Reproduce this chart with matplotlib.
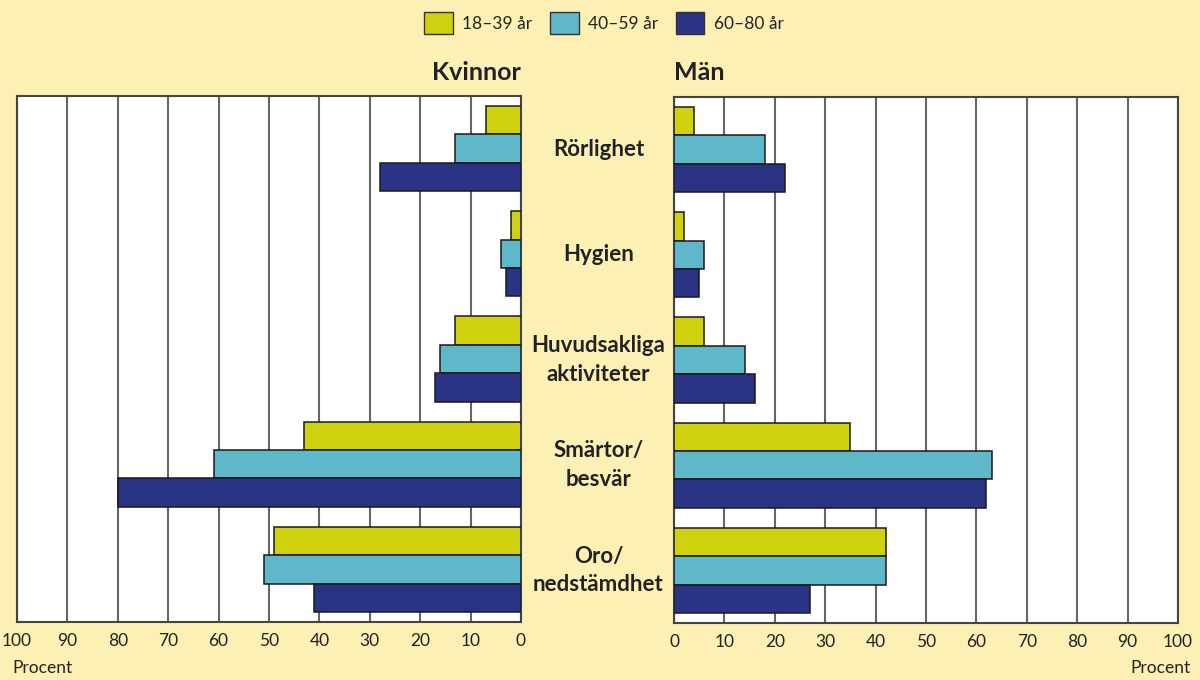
import matplotlib.pyplot as plt
from matplotlib.patches import Patch

# data (percent)
categories = ['Rörlighet', 'Hygien', 'Huvudsakliga\naktiviteter', 'Smärtor/\nbesvär', 'Oro/\nnedstämdhet']
age_groups = ['18–39 år', '40–59 år', '60–80 år']

kvinnor_18_39 = [7, 2, 13, 43, 49]
kvinnor_40_59 = [13, 4, 16, 61, 51]
kvinnor_60_80 = [28, 3, 17, 80, 41]

man_18_39 = [4, 2, 6, 35, 42]
man_40_59 = [18, 6, 14, 63, 42]
man_60_80 = [22, 5, 16, 62, 27]

bg = '#FCF0B4'
colors = ['#CFD10C', '#5FB8C9', '#2B3384']

plt.rcParams['font.family'] = ['Lato', 'DejaVu Sans']

fig = plt.figure(figsize=(12, 6.8), dpi=100)
fig.patch.set_facecolor(bg)

ax_k = fig.add_axes([17 / 1200, 1 - 622 / 680, 504 / 1200, 526 / 680])
ax_m = fig.add_axes([674 / 1200, 1 - 623 / 680, 504 / 1200, 526 / 680])

bar_h = 0.27
offsets = [-bar_h, 0, bar_h]
ypos = list(range(len(categories)))


def draw_side(ax, series):
    ax.set_facecolor('white')
    for i, vals in enumerate(series):
        ax.barh([y + offsets[i] for y in ypos], vals, height=bar_h,
                color=colors[i], edgecolor='#1a1a1a', linewidth=1.1, zorder=3)
    ax.set_xlim(0, 100)
    ax.set_ylim(4.5, -0.5)
    ax.set_xticks(range(0, 101, 10))
    ax.set_yticks([])
    ax.grid(axis='x', color='#666666', linewidth=1.5, zorder=1)
    ax.tick_params(axis='x', length=0, pad=8, labelsize=12.5, labelcolor='#222222')
    for s in ax.spines.values():
        s.set_color('#444444')
        s.set_linewidth(1.5)


draw_side(ax_k, [kvinnor_18_39, kvinnor_40_59, kvinnor_60_80])
ax_k.invert_xaxis()
draw_side(ax_m, [man_18_39, man_40_59, man_60_80])

# category labels in the gap between the panels
for y, cat in zip(ypos, categories):
    ax_m.text(-15, y, cat, ha='center', va='center', fontsize=16,
              fontweight='bold', color='#222222', linespacing=1.45, clip_on=False)

fig.text(521 / 1200, 1 - 72 / 680, 'Kvinnor', ha='right', va='center',
         fontsize=18, fontweight='bold', color='#222222')
fig.text(674 / 1200, 1 - 72 / 680, 'Män', ha='left', va='center',
         fontsize=18, fontweight='bold', color='#222222')

fig.text(12 / 1200, 1 - 668 / 680, 'Procent', ha='left', va='center',
         fontsize=12.5, color='#222222')
fig.text(1190 / 1200, 1 - 668 / 680, 'Procent', ha='right', va='center',
         fontsize=12.5, color='#222222')

handles = [Patch(facecolor=c, edgecolor='#333333', linewidth=1.0) for c in colors]
fig.legend(handles, age_groups, loc='center', bbox_to_anchor=(604 / 1200, 1 - 23 / 680),
           ncol=3, frameon=False, fontsize=12.5, handlelength=1.65, handleheight=1.55,
           handletextpad=0.55, columnspacing=1.0, labelcolor='#222222')

fig.savefig('out.png', dpi=100, facecolor=bg)
